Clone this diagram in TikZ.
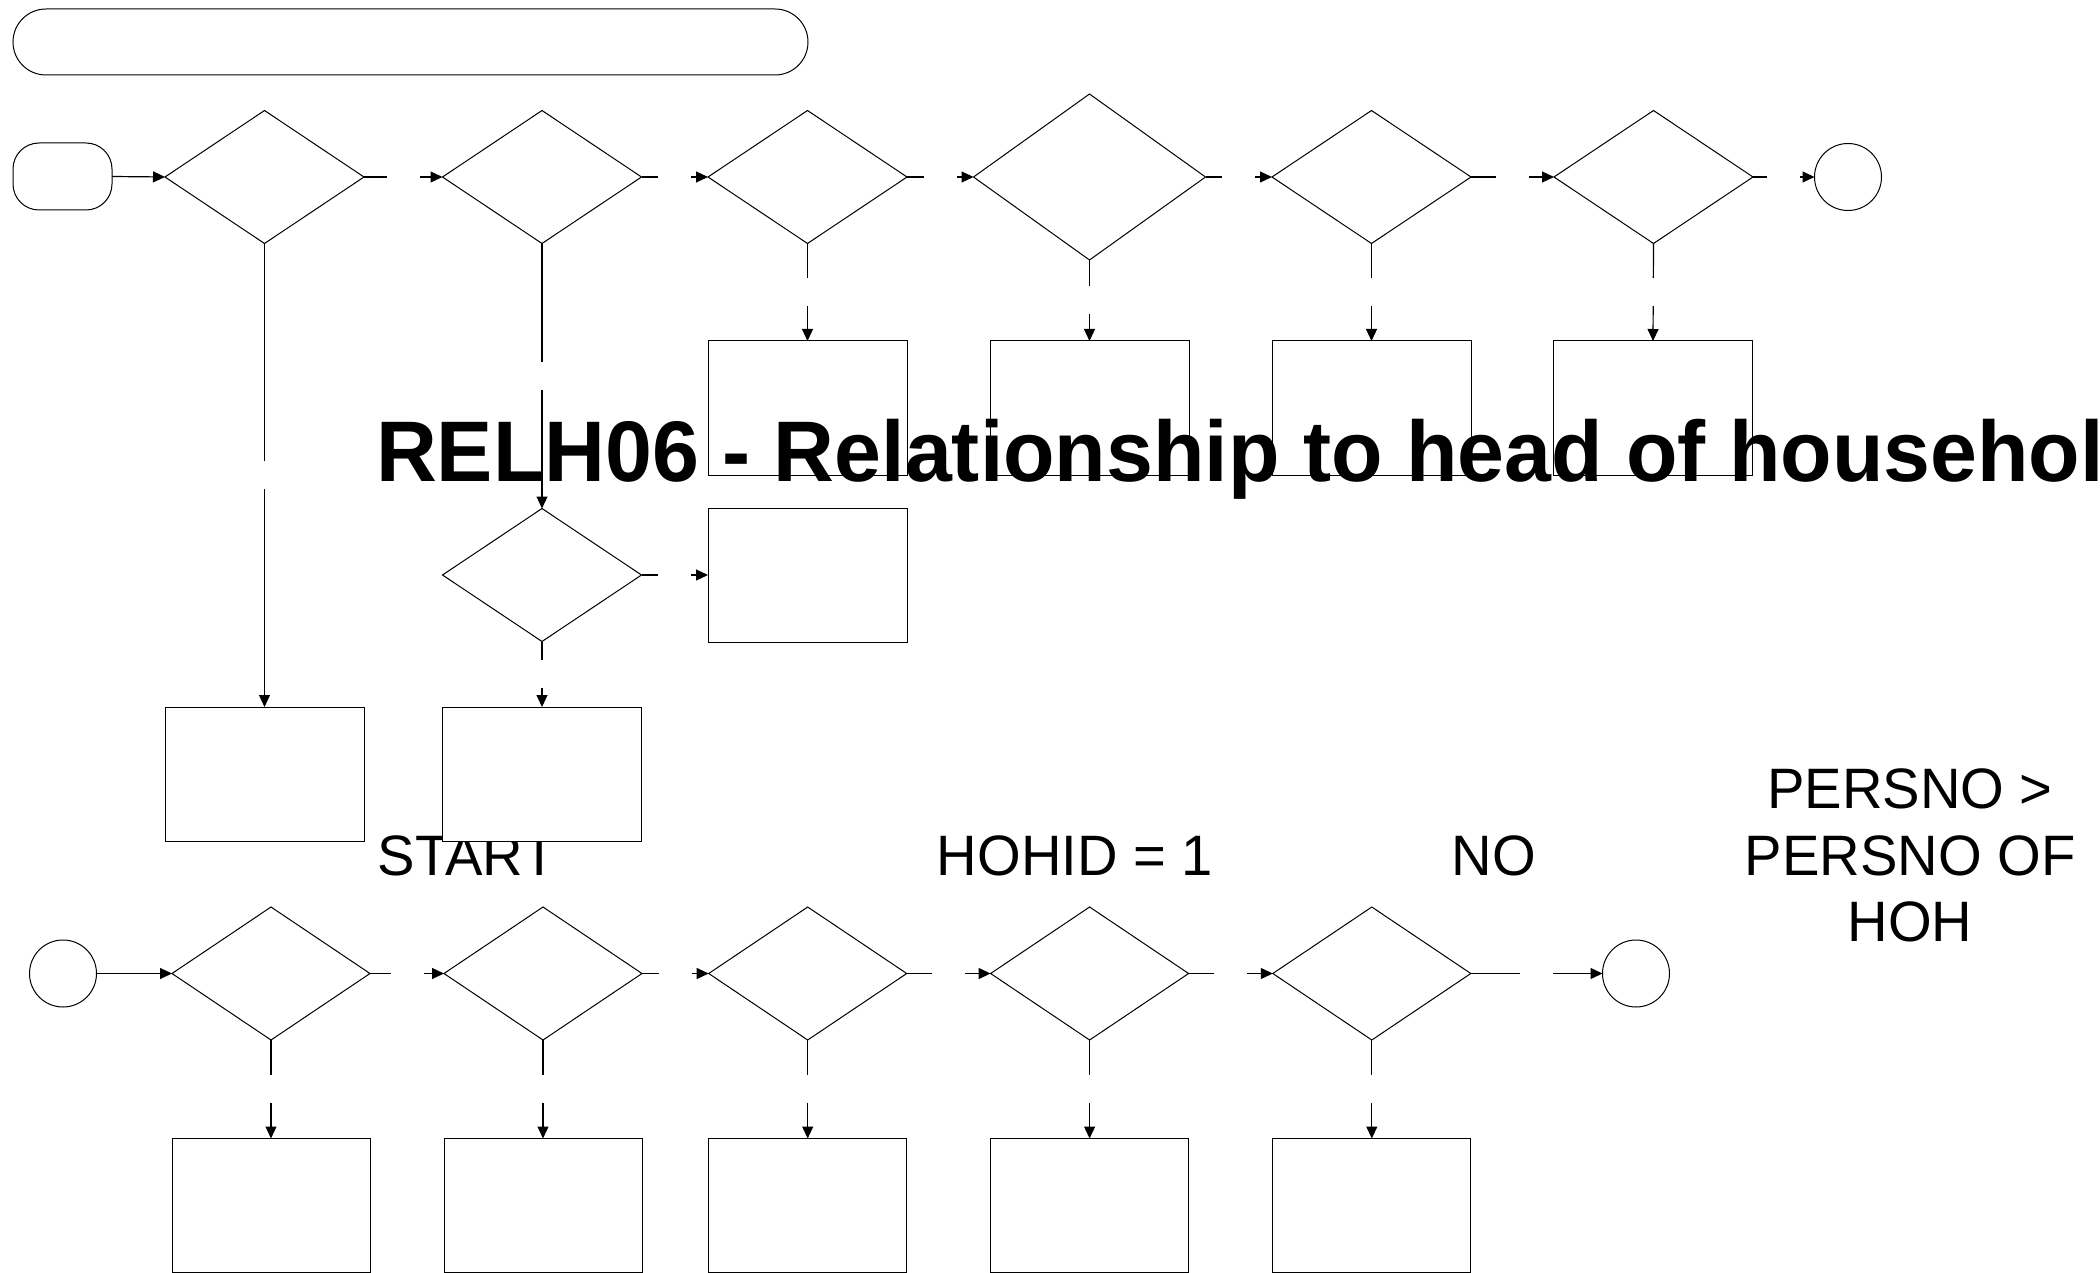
\documentclass[tikz,border=0pt]{standalone}
\usepackage{fontspec}
\newfontfamily\lblfont{Liberation Sans}[FakeStretch=0.985]
\newfontfamily\ttlfont{Liberation Sans}[FakeStretch=0.98]
\usepackage{tikz}
\usetikzlibrary{arrows.meta,shapes.geometric}

\begin{document}
\begin{tikzpicture}[
  x=0.5pt,y=-0.5pt,
  every node/.style={outer sep=0pt},
  decision/.style={diamond,draw,fill=white,line width=0.5pt,inner sep=0pt,minimum width=99.5pt,minimum height=66.5pt},
  process/.style={rectangle,draw,fill=white,line width=0.5pt,inner sep=0pt,minimum width=99.5pt,minimum height=67pt},
  terminal/.style={rectangle,draw,fill=white,line width=0.5pt,inner sep=0pt,rounded corners=13pt,minimum width=49.5pt,minimum height=33.5pt},
  endpoint/.style={circle,draw,fill=white,line width=0.5pt,inner sep=0pt,minimum size=33.5pt},
  flow/.style={line width=0.6pt,-{Triangle[length=6pt,width=5.5pt]}},
  gapfill/.style={fill=white,inner sep=0pt,minimum width=16.5pt,minimum height=14pt},
  lbl/.style={font=\lblfont\fontsize{28.5}{33.35}\selectfont,inner sep=0pt,align=center},
  ttl/.style={font=\ttlfont\bfseries\fontsize{43}{50}\selectfont,inner sep=0pt}
]
  \useasboundingbox (0,0) rectangle (2100,1273);

  % labels (under the shapes)
  \node[lbl,anchor=base] (lstart) at (467,875) {START};
  \node[lbl,anchor=base] (lhohid) at (1075,875) {HOHID = 1};
  \node[lbl,anchor=base] (lno) at (1493.6,875) {NO};
  \node[lbl,anchor=center] (lpersno) at (1910,855.5) {PERSNO >\\PERSNO OF\\HOH};

  % header bar
  \node[rectangle,draw,line width=0.5pt,rounded corners=16.5pt,minimum width=397.5pt,minimum height=33pt] (hdr) at (410.5,42) {};

  % upper chain
  \node[terminal] (t0) at (62.5,176.5) {};
  \node[decision] (d1) at (264.5,177) {};
  \node[decision] (d2) at (542,177) {};
  \node[decision] (d3) at (807.5,177) {};
  \node[decision,minimum width=116pt,minimum height=83pt] (d4) at (1089.5,177) {};
  \node[decision] (d5) at (1371.5,177) {};
  \node[decision] (d6) at (1653.5,177) {};
  \node[endpoint] (e1) at (1848,177) {};

  \node[process] (r3) at (807.5,408) {};
  \node[process] (r4) at (1089.5,408) {};
  \node[process] (r5) at (1371.5,408) {};
  \node[process] (r6) at (1653,408) {};

  \node[decision] (dm) at (542,575) {};
  \node[process] (rm) at (807.5,575) {};

  \node[process] (r1) at (264.5,774) {};
  \node[process] (r2) at (542,774) {};

  % lower chain
  \node[endpoint] (e0) at (63,973.5) {};
  \node[decision,minimum width=99pt] (b1) at (271,973.5) {};
  \node[decision,minimum width=99pt] (b2) at (543,973.5) {};
  \node[decision,minimum width=99pt] (b3) at (807.7,973.5) {};
  \node[decision,minimum width=99pt] (b4) at (1089.6,973.5) {};
  \node[decision,minimum width=99pt] (b5) at (1371.8,973.5) {};
  \node[endpoint] (e2) at (1636,973.5) {};

  \node[process,minimum width=99pt] (q1) at (271,1205.5) {};
  \node[process,minimum width=99pt] (q2) at (543,1205.5) {};
  \node[process,minimum width=99pt] (q3) at (807.7,1205.5) {};
  \node[process,minimum width=99pt] (q4) at (1089.6,1205.5) {};
  \node[process,minimum width=99pt] (q5) at (1371.8,1205.5) {};

  % connectors
  \draw[flow] (t0.east) -- (d1.west);
  \draw[flow] (d1.east) -- node[gapfill] (g1) {} (d2.west);
  \draw[flow] (d2.east) -- node[gapfill] (g2) {} (d3.west);
  \draw[flow] (d3.east) -- node[gapfill] (g3) {} (d4.west);
  \draw[flow] (d4.east) -- node[gapfill] (g4) {} (d5.west);
  \draw[flow] (d5.east) -- node[gapfill] (g5) {} (d6.west);
  \draw[flow] (d6.east) -- node[gapfill] (g6) {} (e1.west);

  \draw[flow] (d1.south) -- node[gapfill] (g7) {} (r1.north);
  \draw[flow] (d2.south) -- node[gapfill] (g8) {} (dm.north);
  \draw[flow] (dm.south) -- node[gapfill] (g9) {} (r2.north);
  \draw[flow] (dm.east) -- node[gapfill] (g10) {} (rm.west);
  \draw[flow] (d3.south) -- node[gapfill] (g11) {} (r3.north);
  \draw[flow] (d4.south) -- node[gapfill] (g12) {} (r4.north);
  \draw[flow] (d5.south) -- node[gapfill] (g13) {} (r5.north);
  \draw[flow] (d6.south) -- node[gapfill] (g14) {} (r6.north);

  \draw[flow] (e0.east) -- (b1.west);
  \draw[flow] (b1.east) -- node[gapfill] (g15) {} (b2.west);
  \draw[flow] (b2.east) -- node[gapfill] (g16) {} (b3.west);
  \draw[flow] (b3.east) -- node[gapfill] (g17) {} (b4.west);
  \draw[flow] (b4.east) -- node[gapfill] (g18) {} (b5.west);
  \draw[flow] (b5.east) -- node[gapfill] (g19) {} (e2.west);

  \draw[flow] (b1.south) -- node[gapfill] (g20) {} (q1.north);
  \draw[flow] (b2.south) -- node[gapfill] (g21) {} (q2.north);
  \draw[flow] (b3.south) -- node[gapfill] (g22) {} (q3.north);
  \draw[flow] (b4.south) -- node[gapfill] (g23) {} (q4.north);
  \draw[flow] (b5.south) -- node[gapfill] (g24) {} (q5.north);

  % title on top
  \node[ttl,anchor=base west] (title) at (376,481.5) {RELH06 - Relationship to head of househol};
\end{tikzpicture}
\end{document}
